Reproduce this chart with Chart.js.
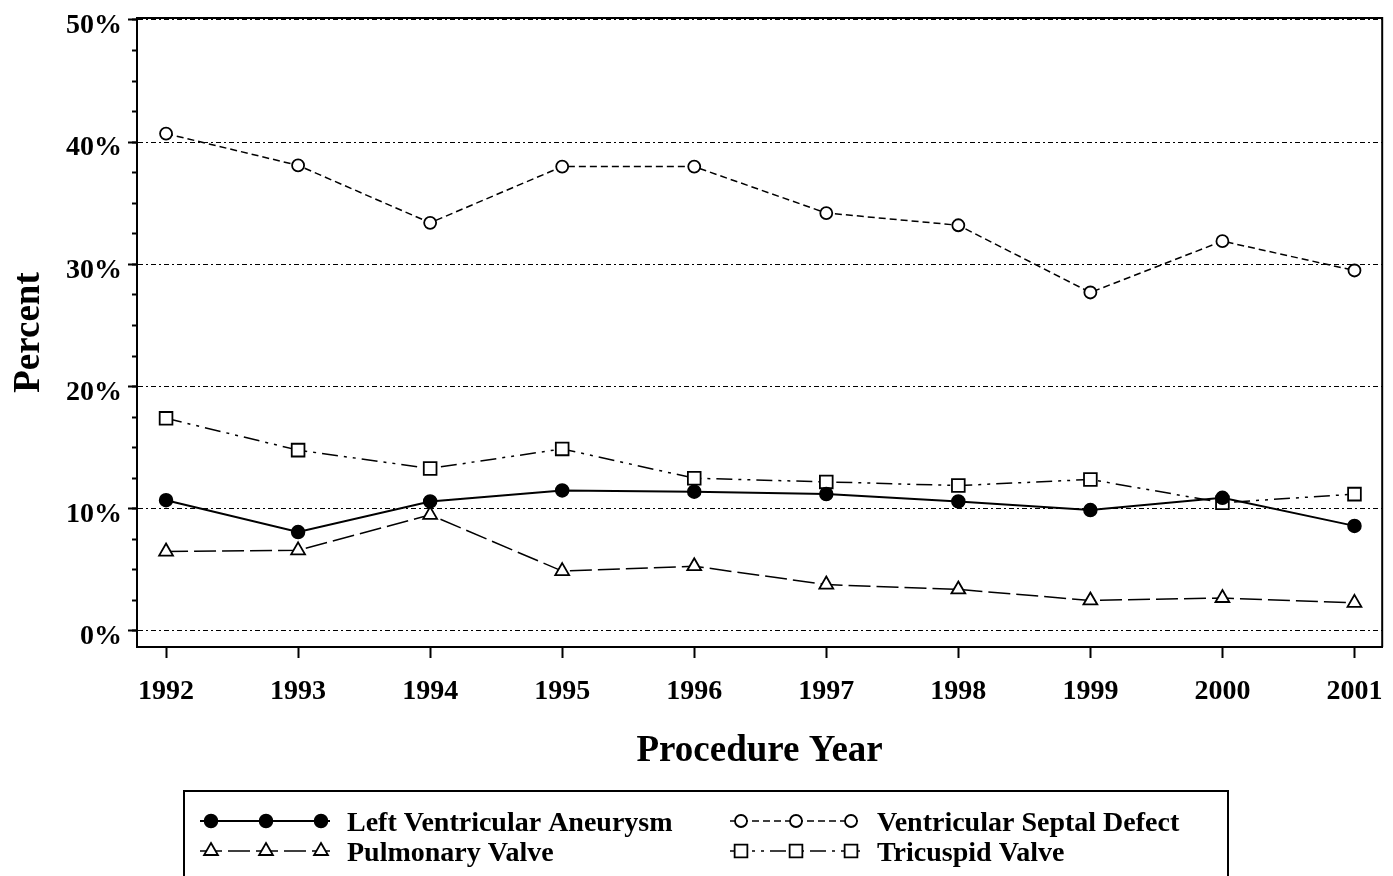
<!DOCTYPE html>
<html>
<head>
<meta charset="utf-8">
<script src="https://cdn.jsdelivr.net/npm/chart.js@4"></script>
<style>
  html, body { margin: 0; padding: 0; background: #fff; }
  #wrap { width: 1393px; height: 876px; }
</style>
</head>
<body>
<div id="wrap"><canvas id="chart"></canvas></div>
<script>
// --- data ---
const years = [1992, 1993, 1994, 1995, 1996, 1997, 1998, 1999, 2000, 2001];

const leftVentricularAneurysm = [10.7, 8.1, 10.6, 11.5, 11.4, 11.2, 10.6, 9.9, 10.9, 8.6];
const ventricularSeptalDefect = [40.7, 38.1, 33.4, 38.0, 38.0, 34.2, 33.2, 27.7, 31.9, 29.5];
const pulmonaryValve = [6.5, 6.6, 9.5, 4.9, 5.3, 3.8, 3.4, 2.5, 2.7, 2.3];
const tricuspidValve = [17.4, 14.8, 13.3, 14.9, 12.5, 12.2, 11.9, 12.4, 10.5, 11.2];

const seriesNames = [
  'Left Ventricular Aneurysm',
  'Ventricular Septal Defect',
  'Pulmonary Valve',
  'Tricuspid Valve'
];

const FONT = "'Liberation Serif', 'Times New Roman', serif";

function points(values) {
  return values.map((v, i) => ({ x: years[i], y: v }));
}

// frame on top and right of the plot
const framePlugin = {
  id: 'frame',
  afterDraw(chart) {
    const { ctx, chartArea: a } = chart;
    ctx.save();
    ctx.strokeStyle = '#000';
    ctx.lineWidth = 2;
    ctx.setLineDash([]);
    ctx.beginPath();
    ctx.moveTo(a.left, a.top);
    ctx.lineTo(a.right, a.top);
    ctx.lineTo(a.right, a.bottom);
    ctx.stroke();
    ctx.restore();
  }
};

// boxed legend, two columns, sample line with three markers
const legendPlugin = {
  id: 'boxLegend',
  afterDraw(chart) {
    const ctx = chart.ctx;
    const box = { left: 184, top: 791, right: 1228, bottom: 880 };
    const cols = [200, 730];
    const rows = [821, 851];
    ctx.save();
    ctx.strokeStyle = '#000';
    ctx.lineWidth = 2;
    ctx.setLineDash([]);
    ctx.strokeRect(box.left, box.top, box.right - box.left, box.bottom - box.top);

    chart.data.datasets.forEach((ds, i) => {
      const x0 = cols[i % 2];
      const y = rows[Math.floor(i / 2)];
      const x1 = x0 + 130;

      ctx.strokeStyle = '#000';
      ctx.lineWidth = ds.borderWidth;
      ctx.setLineDash(ds.borderDash || []);
      ctx.beginPath();
      ctx.moveTo(x0, y);
      ctx.lineTo(x1, y);
      ctx.stroke();

      ctx.setLineDash([]);
      [x0 + 11, x0 + 66, x0 + 121].forEach(mx => {
        ctx.fillStyle = ds.pointBackgroundColor;
        ctx.strokeStyle = '#000';
        ctx.lineWidth = ds.pointBorderWidth;
        Chart.helpers.drawPoint(ctx, {
          pointStyle: ds.pointStyle,
          radius: ds.pointRadius,
          borderWidth: ds.pointBorderWidth,
          rotation: 0
        }, mx, y);
      });

      ctx.fillStyle = '#000';
      ctx.font = 'bold 28px ' + FONT;
      ctx.textAlign = 'left';
      ctx.textBaseline = 'middle';
      ctx.fillText(ds.label, x1 + 17, y + 3);
    });
    ctx.restore();
  }
};

new Chart(document.getElementById('chart'), {
  type: 'line',
  data: {
    datasets: [
      {
        label: seriesNames[0],
        data: points(leftVentricularAneurysm),
        borderColor: '#000',
        borderWidth: 2,
        borderDash: [],
        pointStyle: 'circle',
        pointRadius: 6.5,
        pointBorderWidth: 1.5,
        pointBackgroundColor: '#000',
        pointBorderColor: '#000'
      },
      {
        label: seriesNames[1],
        data: points(ventricularSeptalDefect),
        borderColor: '#000',
        borderWidth: 1.5,
        borderDash: [7, 4],
        pointStyle: 'circle',
        pointRadius: 6,
        pointBorderWidth: 1.8,
        pointBackgroundColor: '#fff',
        pointBorderColor: '#000'
      },
      {
        label: seriesNames[2],
        data: points(pulmonaryValve),
        borderColor: '#000',
        borderWidth: 1.5,
        borderDash: [22, 6],
        pointStyle: 'triangle',
        pointRadius: 8,
        pointBorderWidth: 1.8,
        pointBackgroundColor: '#fff',
        pointBorderColor: '#000'
      },
      {
        label: seriesNames[3],
        data: points(tricuspidValve),
        borderColor: '#000',
        borderWidth: 1.5,
        borderDash: [16, 6, 3, 6, 3, 6],
        pointStyle: 'rect',
        pointRadius: 9,
        pointBorderWidth: 1.8,
        pointBackgroundColor: '#fff',
        pointBorderColor: '#000'
      }
    ]
  },
  options: {
    responsive: true,
    maintainAspectRatio: false,
    animation: false,
    devicePixelRatio: 1,
    layout: { padding: { left: 0, top: 18, right: 10, bottom: 100 } },
    plugins: {
      legend: { display: false },
      tooltip: { enabled: false }
    },
    elements: { line: { tension: 0 } },
    scales: {
      x: {
        type: 'linear',
        min: 1991.78,
        max: 2001.21,
        afterFit(scale) {
          scale.height = 129;
          scale.paddingLeft = 0;
          scale.paddingRight = 0;
        },
        border: { display: true, color: '#000', width: 2 },
        grid: {
          drawOnChartArea: false,
          color: '#000',
          tickLength: 11,
          tickWidth: 2
        },
        ticks: {
          stepSize: 1,
          includeBounds: false,
          autoSkip: false,
          maxRotation: 0,
          color: '#000',
          padding: 17,
          font: { family: FONT, size: 28, weight: 'bold' },
          callback: v => String(v)
        },
        title: {
          display: true,
          text: 'Procedure Year',
          color: '#000',
          font: { family: FONT, size: 37, weight: 'bold' },
          padding: { top: 0, bottom: 2 }
        }
      },
      y: {
        weight: 1,
        min: -1.31,
        max: 50.16,
        afterFit(scale) {
          scale.width = 137;
          scale.paddingTop = 0;
          scale.paddingBottom = 0;
        },
        border: { display: true, color: '#000', width: 2, dash: [5, 3, 2, 3] },
        grid: {
          color: '#000',
          lineWidth: 1,
          tickBorderDash: [],
          tickColor: '#000',
          tickLength: 9,
          tickWidth: 2
        },
        ticks: {
          stepSize: 10,
          includeBounds: false,
          color: '#000',
          padding: 6,
          // labels sit a little below their grid line, as in the original
          font: { family: FONT, size: 28, weight: 'bold', lineHeight: 0.43 },
          callback: v => ['', v + '%']
        },
        title: {
          display: true,
          text: 'Percent',
          color: '#000',
          font: { family: FONT, size: 37, weight: 'bold' },
          padding: { top: 7, bottom: 0 }
        }
      },
      yMinor: {
        position: 'left',
        weight: 0,
        min: -1.31,
        max: 50.16,
        afterFit(scale) {
          scale.width = 0;
          scale.paddingTop = 0;
          scale.paddingBottom = 0;
        },
        border: { display: false },
        grid: {
          drawOnChartArea: false,
          color: '#000',
          tickLength: 5,
          tickWidth: 2
        },
        ticks: {
          stepSize: 2.5,
          includeBounds: false,
          display: false
        }
      }
    }
  },
  plugins: [framePlugin, legendPlugin]
});
</script>
</body>
</html>
